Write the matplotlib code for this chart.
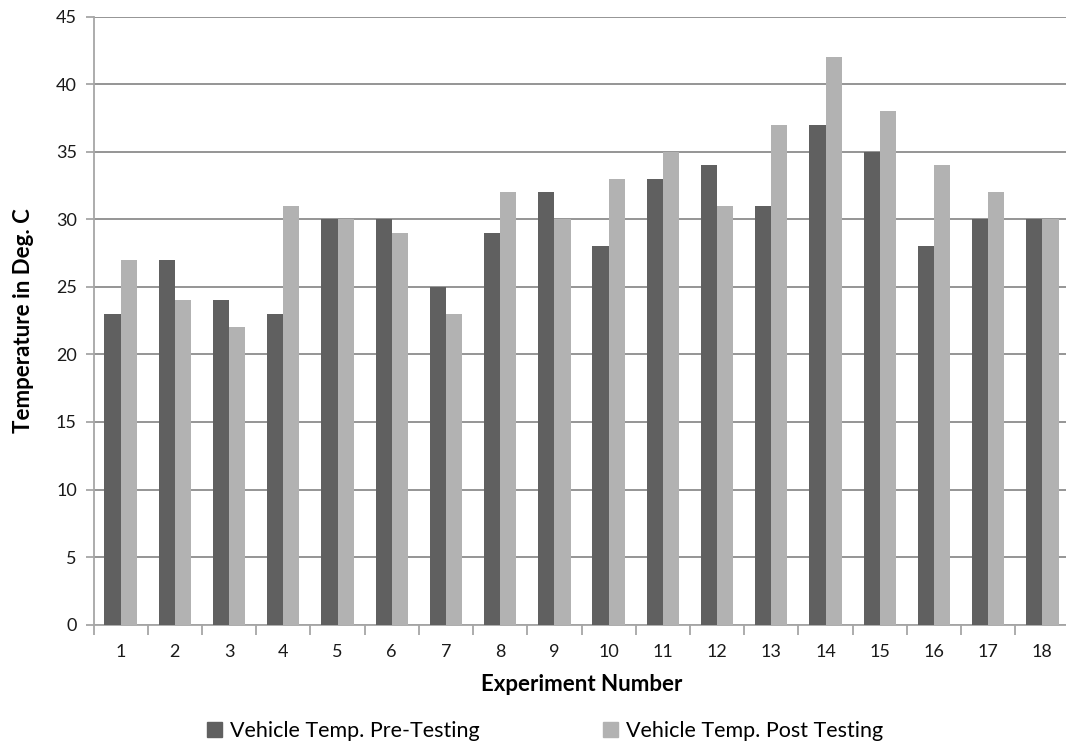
import matplotlib
matplotlib.use("Agg")
import matplotlib.pyplot as plt
from matplotlib.patches import Patch
import numpy as np

plt.rcParams['font.family'] = ['Lato', 'DejaVu Sans']

experiments = [str(i) for i in range(1, 19)]
pre_testing = [23, 27, 24, 23, 30, 30, 25, 29, 32, 28, 33, 34, 31, 37, 35, 28, 30, 30]
post_testing = [27, 24, 22, 31, 30, 29, 23, 32, 30, 33, 35, 31, 37, 42, 38, 34, 32, 30]
y_ticks = list(range(0, 50, 5))

dark = '#606060'
light = '#b2b2b2'

W, H = 1066, 746
fig = plt.figure(figsize=(W / 100, H / 100), dpi=100)
left, right, top, bottom = 93.5, 1069.5, 17, 624.5
ax = fig.add_axes([left / W, 1 - bottom / H, (right - left) / W, (bottom - top) / H])

x = np.arange(len(experiments))
bw = 0.298
ax.bar(x - bw / 2, pre_testing, bw, color=dark, zorder=3)
ax.bar(x + bw / 2, post_testing, bw, color=light, zorder=3)

ax.set_xlim(-0.5, len(experiments) - 0.5)
ax.set_ylim(0, 45)
ax.set_yticks(y_ticks)
ax.set_yticklabels([str(v) for v in y_ticks])
ax.set_xticks(x)
ax.set_xticklabels(experiments)
ax.set_xticks(np.arange(-0.5, len(experiments), 1), minor=True)

ax.grid(axis='y', color='#8c8c8c', linewidth=1.3, zorder=0)
for s in ['top', 'right']:
    ax.spines[s].set_visible(False)
ax.spines['left'].set_color('#a6a6a6')
ax.spines['bottom'].set_color('#a6a6a6')
ax.spines['left'].set_linewidth(1.3)
ax.spines['bottom'].set_linewidth(1.3)

ax.tick_params(axis='y', which='major', length=6, color='#a6a6a6', width=1.3,
               labelsize=13, labelcolor='#1a1a1a', pad=6)
ax.tick_params(axis='x', which='major', length=0, labelsize=13, labelcolor='#1a1a1a', pad=14)
ax.tick_params(axis='x', which='minor', length=7, color='#a6a6a6', width=1.3)

ax.set_xlabel('Experiment Number', fontsize=16, fontweight='bold', labelpad=10)
ax.set_ylabel('Temperature in Deg. C', fontsize=16, fontweight='bold', labelpad=16)

handles = [Patch(color=dark, label='Vehicle Temp. Pre-Testing'),
           Patch(color=light, label='Vehicle Temp. Post Testing')]
fig.legend(handles=handles, loc='center', bbox_to_anchor=(545 / W, 1 - 731 / H),
           ncol=2, frameon=False, fontsize=15.5, handlelength=0.7, handleheight=0.7,
           handletextpad=0.4, columnspacing=5.7)

fig.savefig('out.png', dpi=100)
